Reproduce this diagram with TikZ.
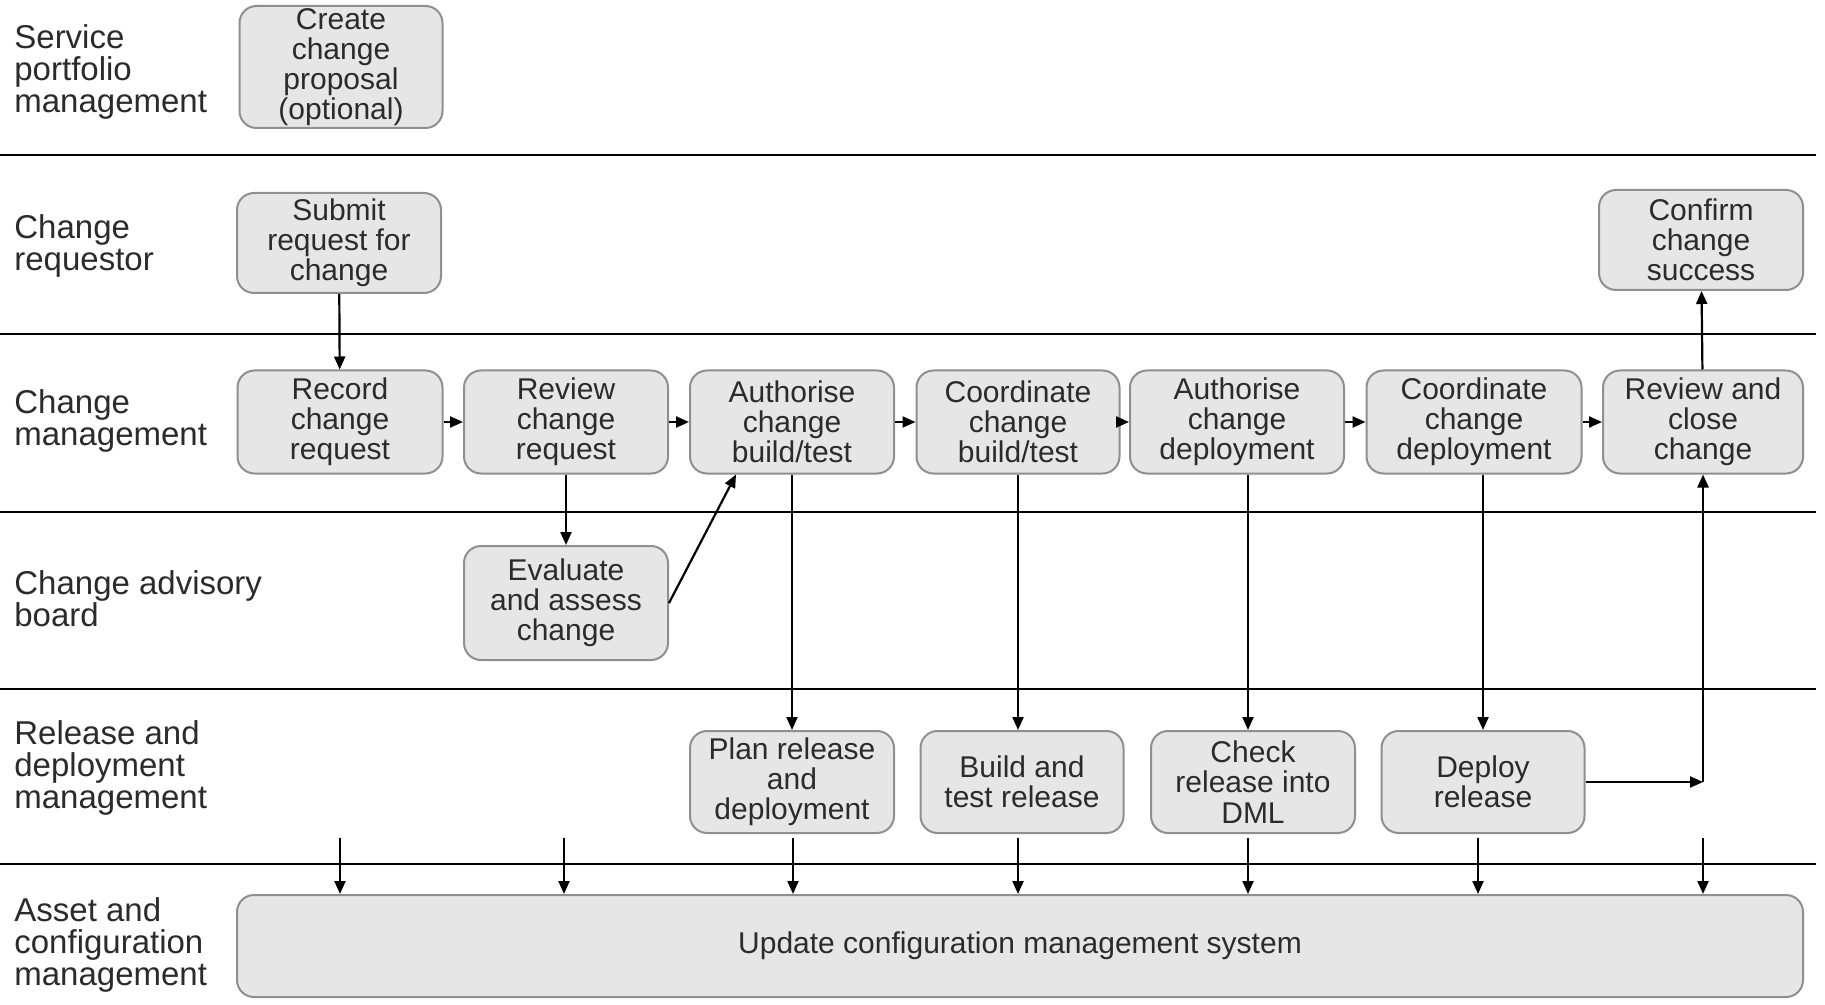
\documentclass[tikz,border=0pt]{standalone}
\usepackage{fontspec}
\setmainfont{Liberation Sans}
\usetikzlibrary{arrows.meta,calc}
\definecolor{boxfill}{HTML}{E6E6E6}
\definecolor{boxline}{HTML}{8F8F8F}
\definecolor{ink}{HTML}{2B2B2B}

\begin{document}
\begin{tikzpicture}[x=0.5pt,y=-0.5pt,
  lane/.style={line width=1.2pt,black},
  lanelabel/.style={anchor=west,align=left,inner sep=0,text=ink,font=\fontsize{16.5}{16}\selectfont},
  task/.style={draw=boxline,fill=boxfill,line width=1pt,rounded corners=8.5pt,align=center,inner sep=0,text=ink,font=\fontsize{15}{15.1}\selectfont},
  flow/.style={line width=1.1pt,black,-{Triangle[length=6.5pt,width=5.5pt]}},
]
\useasboundingbox (0,0) rectangle (1825,1005);

% swimlane separators
\foreach \yy in {155,334,512,689,864}
  \draw[lane] (0,\yy) -- (1816,\yy);

% lane titles
\node[lanelabel] (l1) at (14,72)  {Service\\portfolio\\management};
\node[lanelabel] (l2) at (14,246) {Change\\requestor};
\node[lanelabel] (l3) at (14,421) {Change\\management};
\node[lanelabel] (l4) at (14,599) {Change advisory\\board};
\node[lanelabel] (l5) at (14,768) {Release and\\deployment\\management};
\node[lanelabel] (l6) at (14,945) {Asset and\\configuration\\management};

% service portfolio / requestor
\node[task,minimum width=101.5pt,minimum height=61pt] (cp) at (341,67) {Create\\change\\proposal\\(optional)};
\node[task,minimum width=102pt,minimum height=50pt] (sr) at (339,243) {Submit\\request for\\change};
\node[task,minimum width=102pt,minimum height=50pt] (cf) at (1701,240) {Confirm\\change\\success};

% change management
\node[task,minimum width=102.5pt,minimum height=51.5pt] (rec) at (340,422) {Record\\change\\request};
\node[task,minimum width=102pt,minimum height=51.5pt] (rev) at (566,422) {Review\\change\\request};
\node[task,minimum width=102pt,minimum height=51.5pt] (ab) at (792,422) {Authorise\\change\\build/test};
\node[task,minimum width=101.5pt,minimum height=51.5pt] (cb) at (1018,422) {Coordinate\\change\\build/test};
\node[task,minimum width=107pt,minimum height=51.5pt] (ad) at (1237,422) {Authorise\\change\\deployment};
\node[task,minimum width=107.5pt,minimum height=51.5pt] (cd) at (1474,422) {Coordinate\\change\\deployment};
\node[task,minimum width=100pt,minimum height=51.5pt] (rc) at (1703,422) {Review and\\close\\change};

% change advisory board
\node[task,minimum width=102pt,minimum height=57pt] (ev) at (566,603) {Evaluate\\and assess\\change};

% release and deployment
\node[task,minimum width=102pt,minimum height=51pt] (plan) at (792,782) {Plan release\\and\\deployment};
\node[task,minimum width=101.5pt,minimum height=51pt] (bt) at (1022,782) {Build and\\test release};
\node[task,minimum width=102pt,minimum height=51pt] (ck) at (1253,782) {Check\\release into\\DML};
\node[task,minimum width=101.5pt,minimum height=51pt] (dp) at (1483,782) {Deploy\\release};

% configuration management
\node[task,minimum width=783pt,minimum height=51pt] (upd) at (1020,946) {Update configuration management system};

% main flow
\draw[flow] (sr) -- (rec);
\draw[flow] (rec) -- (rev);
\draw[flow] (rev) -- (ab);
\draw[flow] (ab) -- (cb);
\draw[flow] (cb) -- (ad);
\draw[flow] (ad) -- (cd);
\draw[flow] (cd) -- (rc);
\draw[flow] (rev) -- (ev);
\draw[flow] (ev.east) -- ([xshift=-28pt]ab.south);
\draw[flow] (rc) -- (cf);

% hand-offs to release and deployment
\draw[flow] (ab) -- (plan);
\draw[flow] (cb.south) -- (cb.south |- bt.north);
\draw[flow] ([xshift=-2.5pt]ck.north |- ad.south) -- ([xshift=-2.5pt]ck.north);
\draw[flow] (dp.north |- cd.south) -- (dp.north);

% deployment back to review
\coordinate (turn) at (rc.south |- dp.east);
\draw[flow] (dp.east) -- (turn);
\draw[flow] (turn) -- (rc.south);

% updates to the CMS
\foreach \xx [count=\i] in {340,564,793,1018,1248,1478,1703} {
  \coordinate (u\i) at (\xx,838);
  \draw[flow] (u\i) -- (u\i |- upd.north);
}
\end{tikzpicture}
\end{document}
